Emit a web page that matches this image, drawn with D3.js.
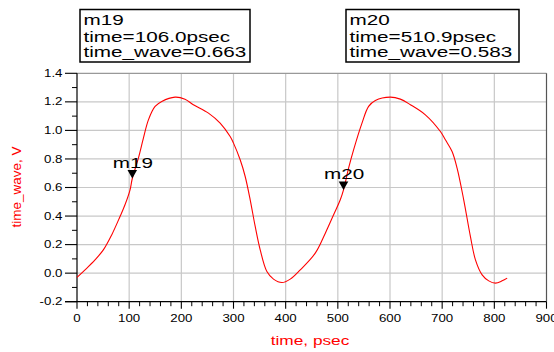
<!DOCTYPE html>
<html>
<head>
<meta charset="utf-8">
<script src="https://cdn.jsdelivr.net/npm/d3@7"></script>
<style>
  html, body { margin: 0; padding: 0; background: #fff; }
  svg { display: block; font-family: "Liberation Sans", Arial, sans-serif; }
</style>
</head>
<body>
<svg id="chart" width="554" height="352"></svg>
<script>
// ---- data ----
const timePs = [0, 15.4, 34.5, 50.5, 66.5, 82.5, 92, 101.7, 106, 117.7, 127.3, 136.9, 149.7, 162.5, 188, 207, 223, 252, 274.4, 293.6, 300, 312.8, 322.4, 332, 341.6, 351.2, 364, 376.7, 392.8, 408.8, 428, 456.7, 476, 491.9, 504.7, 510.9, 520.6, 530.2, 546.3, 559, 571.9, 600.6, 619.8, 639, 667.8, 696.6, 706.2, 719, 728.6, 741.3, 754.2, 763.8, 776.6, 789.3, 802.2, 815, 824.6];
const timeWave = [-0.03, 0.023, 0.093, 0.163, 0.268, 0.397, 0.479, 0.584, 0.663, 0.806, 0.946, 1.074, 1.168, 1.203, 1.233, 1.219, 1.18, 1.121, 1.051, 0.957, 0.911, 0.794, 0.677, 0.514, 0.327, 0.163, 0.011, -0.042, -0.066, -0.042, 0.023, 0.14, 0.28, 0.409, 0.514, 0.583, 0.736, 0.864, 1.051, 1.168, 1.21, 1.233, 1.219, 1.18, 1.109, 0.992, 0.934, 0.852, 0.736, 0.514, 0.256, 0.093, -0.012, -0.054, -0.07, -0.054, -0.035];

const markerNames = ["m19", "m20"];
const markerTimes = [106.0, 510.9];
const markerValues = [0.663, 0.583];
const markerTimeLabels = ["106.0psec", "510.9psec"];
const markerValueLabels = ["0.663", "0.583"];

const xTicks = [0, 100, 200, 300, 400, 500, 600, 700, 800, 900];
const yTicks = [-0.2, 0.0, 0.2, 0.4, 0.6, 0.8, 1.0, 1.2, 1.4];
const xTitle = "time, psec";
const yTitle = "time_wave, V";

// ---- layout ----
const svg = d3.select("#chart");
const L = 77, R = 546.5, T = 73.3, B = 301.7;
const x = d3.scaleLinear().domain([0, 900]).range([L, R]);
const y = d3.scaleLinear().domain([-0.2, 1.4]).range([B, T]);
const SX = 1.33; // horizontal stretch of text in the reference

function stext(g, px, py, str, size, sx, anchor, fill) {
  return g.append("text")
    .attr("transform", `translate(${px},${py}) scale(${sx},1)`)
    .attr("text-anchor", anchor)
    .attr("font-size", size)
    .attr("fill", fill)
    .text(str);
}

// grid
const grid = svg.append("g");
grid.selectAll("line.gx").data(xTicks.slice(1, -1)).enter().append("line")
  .attr("x1", d => x(d)).attr("x2", d => x(d)).attr("y1", T).attr("y2", B)
  .attr("stroke", "#c8c8c8").attr("stroke-width", 1.2);
grid.selectAll("line.gy").data(yTicks.slice(1, -1)).enter().append("line")
  .attr("x1", L).attr("x2", R).attr("y1", d => y(d)).attr("y2", d => y(d))
  .attr("stroke", "#c8c8c8").attr("stroke-width", 1.2);
// top / right frame
svg.append("line").attr("x1", L).attr("x2", R).attr("y1", T).attr("y2", T)
  .attr("stroke", "#999").attr("stroke-width", 1.2);
svg.append("line").attr("x1", R).attr("x2", R).attr("y1", T).attr("y2", B)
  .attr("stroke", "#555").attr("stroke-width", 1.2);

// axes lines
svg.append("line").attr("x1", L).attr("x2", L).attr("y1", T).attr("y2", B)
  .attr("stroke", "#000").attr("stroke-width", 1.2);
svg.append("line").attr("x1", L - 12).attr("x2", R).attr("y1", B).attr("y2", B)
  .attr("stroke", "#000").attr("stroke-width", 1.2);

// x ticks (major + minor every 20)
const xMinor = d3.range(0, 901, 20).filter(v => v % 100 !== 0);
svg.selectAll("line.xmin").data(xMinor).enter().append("line")
  .attr("x1", d => x(d)).attr("x2", d => x(d)).attr("y1", B).attr("y2", B + 4.5)
  .attr("stroke", "#000").attr("stroke-width", 1);
svg.selectAll("line.xmaj").data(xTicks).enter().append("line")
  .attr("x1", d => x(d)).attr("x2", d => x(d)).attr("y1", B).attr("y2", B + 7)
  .attr("stroke", "#000").attr("stroke-width", 1.1);
xTicks.forEach(v => stext(svg, x(v), 321.5, String(v), 10, SX, "middle", "#000"));

// y ticks (major + minor every 0.1)
const yMinor = [-0.1, 0.1, 0.3, 0.5, 0.7, 0.9, 1.1, 1.3];
svg.selectAll("line.ymin").data(yMinor).enter().append("line")
  .attr("x1", L - 5).attr("x2", L).attr("y1", d => y(d)).attr("y2", d => y(d))
  .attr("stroke", "#000").attr("stroke-width", 1);
svg.selectAll("line.ymaj").data(yTicks).enter().append("line")
  .attr("x1", L - 12).attr("x2", L).attr("y1", d => y(d)).attr("y2", d => y(d))
  .attr("stroke", "#000").attr("stroke-width", 1.1);
yTicks.forEach(v => stext(svg, 62.5, y(v) + 3.6, v.toFixed(1), 10, SX, "end", "#000"));

// axis titles
stext(svg, 310, 345, xTitle, 13, SX, "middle", "#ff0000");
svg.append("text")
  .attr("transform", `translate(21,187) rotate(-90)`)
  .attr("text-anchor", "middle").attr("font-size", 13.5).attr("fill", "#ff0000")
  .text(yTitle);

// curve
const pts = timePs.map((t, i) => [t, timeWave[i]]);
svg.append("path")
  .attr("d", d3.line().x(d => x(d[0])).y(d => y(d[1])).curve(d3.curveCatmullRom)(pts))
  .attr("fill", "none").attr("stroke", "#ff0000").attr("stroke-width", 1.1);

// markers
const BS = 1.38;
markerNames.forEach((name, i) => {
  const mx = x(markerTimes[i]), my = y(markerValues[i]);
  svg.append("path")
    .attr("d", `M${mx - 4.8},${my - 8.5} L${mx + 4.8},${my - 8.5} L${mx},${my} Z`)
    .attr("fill", "#000");
  stext(svg, mx - 19.5, my - 11, name, 15, BS, "start", "#000");
});

// marker readout boxes
const boxX = [80, 346], boxW = [170, 173];
markerNames.forEach((name, i) => {
  svg.append("rect").attr("x", boxX[i]).attr("y", 9.5).attr("width", boxW[i]).attr("height", 52.5)
    .attr("fill", "#fff").attr("stroke", "#000").attr("stroke-width", 1.5);
  const tx = boxX[i] + 3.5;
  stext(svg, tx, 25, name, 15, BS, "start", "#000");
  stext(svg, tx, 41.5, "time=" + markerTimeLabels[i], 15, BS, "start", "#000");
  stext(svg, tx, 57, "time_wave=" + markerValueLabels[i], 15, BS, "start", "#000");
});
</script>
</body>
</html>
